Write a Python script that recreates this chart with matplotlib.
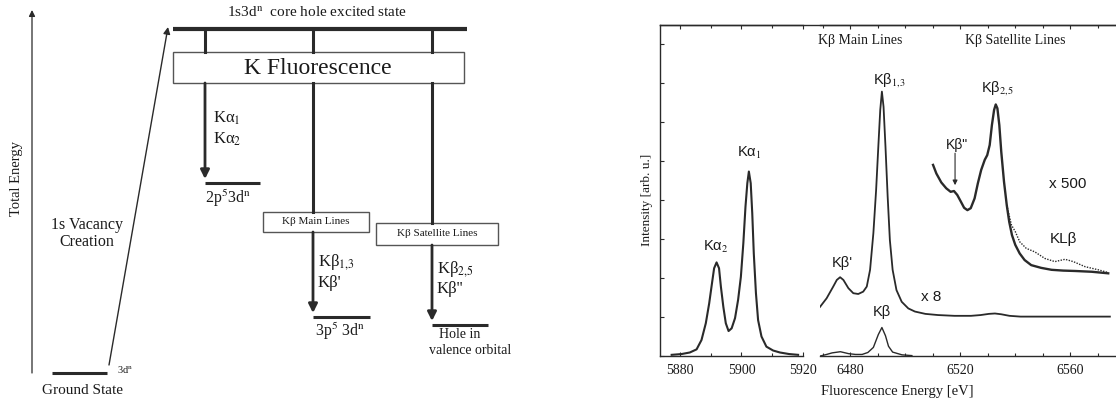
import matplotlib
matplotlib.use('Agg')
import matplotlib.pyplot as plt
from matplotlib.patches import Rectangle
from matplotlib.ticker import MultipleLocator

plt.rcParams['font.family'] = ['Liberation Serif', 'DejaVu Serif']
plt.rcParams['mathtext.fontset'] = 'stix'

# ---------------- spectrum data ----------------
ka_energy = [5877.3, 5880.5, 5883.2, 5885.4, 5887.0, 5888.4, 5889.5, 5890.4, 5891.1, 5891.9,
             5892.7, 5893.3, 5894.1, 5894.9, 5895.8, 5896.8, 5897.9, 5898.9, 5899.8, 5900.6,
             5901.3, 5901.9, 5902.4, 5903.0, 5903.5, 5904.0, 5904.7, 5905.4, 5906.5, 5908.1,
             5910.3, 5912.5, 5915.5, 5918.4]
ka_int = [0.03, 0.05, 0.09, 0.17, 0.41, 0.84, 1.35, 1.86, 2.25, 2.40,
          2.25, 1.78, 1.26, 0.84, 0.64, 0.71, 0.97, 1.44, 2.03, 2.89,
          3.83, 4.43, 4.73, 4.43, 3.66, 2.63, 1.61, 0.92, 0.50, 0.24,
          0.14, 0.09, 0.05, 0.03]

kb_energy = [6469.2, 6471.5, 6473.5, 6476.5, 6479.5, 6482.0, 6484.4, 6486.5, 6488.5, 6490.3,
             6491.6, 6492.9, 6494.0, 6495.5, 6498.9, 6502.5]
kb_int = [0.0, 0.04, 0.08, 0.11, 0.06, 0.04, 0.04, 0.09, 0.22, 0.55,
          0.73, 0.52, 0.25, 0.10, 0.03, 0.01]

kb8_energy = [6469.1, 6471.5, 6473.9, 6475.2, 6476.4, 6477.6, 6479.4, 6481.2, 6483.0, 6484.8,
              6486.1, 6487.3, 6488.5, 6489.5, 6490.3, 6491.0, 6491.6, 6492.2, 6492.9, 6493.7,
              6494.5, 6495.5, 6496.9, 6498.8, 6501.2, 6503.6, 6507.4, 6512.0, 6518.0, 6524.0,
              6527.5, 6530.5, 6532.7, 6535.0, 6538.0, 6542.0, 6574.5]
kb8_int = [1.26, 1.48, 1.78, 1.95, 2.02, 1.95, 1.74, 1.61, 1.59, 1.65,
           1.78, 2.21, 3.15, 4.26, 5.37, 6.31, 6.78, 6.39, 5.37, 4.08,
           2.97, 2.21, 1.69, 1.39, 1.22, 1.14, 1.08, 1.05, 1.03, 1.03,
           1.05, 1.08, 1.09, 1.07, 1.03, 1.01, 1.01]

sat_energy = [6510.2, 6511.4, 6513.2, 6515.0, 6516.6, 6517.8, 6519.0, 6520.3, 6521.5, 6522.7,
              6523.9, 6525.3, 6526.5, 6527.7, 6529.0, 6529.9, 6530.8, 6531.6, 6532.4, 6533.0,
              6533.6, 6534.3, 6535.0, 6536.0, 6537.0, 6537.9, 6538.9, 6540.1, 6541.7, 6543.5,
              6545.9, 6549.5, 6553.3, 6557.5, 6561.8, 6567.9, 6573.9]
sat_int = [4.90, 4.68, 4.45, 4.30, 4.21, 4.23, 4.13, 3.96, 3.80, 3.74,
           3.79, 4.04, 4.43, 4.77, 5.03, 5.15, 5.41, 5.92, 6.31, 6.45,
           6.35, 5.92, 5.24, 4.47, 3.87, 3.44, 3.10, 2.85, 2.63, 2.46,
           2.33, 2.26, 2.21, 2.19, 2.18, 2.16, 2.12]

satdot_energy = [6537.0, 6538.7, 6540.1, 6541.7, 6544.1, 6547.2, 6550.9, 6554.5, 6558.2,
                 6561.2, 6565.5, 6570.3, 6573.9]
satdot_int = [3.87, 3.36, 3.19, 2.93, 2.76, 2.67, 2.50, 2.42, 2.48,
              2.42, 2.29, 2.21, 2.14]

ka_ticks = [5880, 5900, 5920]
kb_ticks = [6480, 6520, 6560]

LC = '#2a2a2a'
TC = '#1a1a1a'
W, H = 1116, 407

fig = plt.figure(figsize=(11.16, 4.07), dpi=100)

# ---------------- energy level diagram ----------------
dg = fig.add_axes([0, 0, 1, 1])
dg.set_xlim(0, W)
dg.set_ylim(H, 0)
dg.axis('off')

def arrow(ax, x0, y0, x1, y1, lw, ms):
    ax.annotate('', xy=(x1, y1), xytext=(x0, y0),
                arrowprops=dict(arrowstyle='-|>', lw=lw, color=LC, mutation_scale=ms,
                                shrinkA=0, shrinkB=0))

# total energy axis
arrow(dg, 32, 373, 32, 10, 0.9, 9)
dg.text(17, 178, 'Total Energy', rotation=90, ha='center', va='center', fontsize=10.5, color=TC)

# levels
levels = [(52, 107, 373), (173, 467, 29), (205, 260, 183), (313, 370, 317), (432, 488, 325)]
for i, (xa, xb, y) in enumerate(levels):
    dg.plot([xa, xb], [y, y], color=LC, lw=3 if i == 1 else 2.2, solid_capstyle='butt')

dg.text(117, 370, '3d$^{\\mathrm{n}}$', fontsize=7.5, ha='left', va='center', color=TC)
dg.text(83, 390, 'Ground State', fontsize=11, ha='center', va='center', color=TC)
dg.text(87, 225, '1s Vacancy', fontsize=11.5, ha='center', va='center', color=TC)
dg.text(87, 242, 'Creation', fontsize=11.5, ha='center', va='center', color=TC)
arrow(dg, 109, 365, 168, 27, 1.0, 10)
dg.text(317, 13, '1s3d$^{\\mathrm{n}}$  core hole excited state', fontsize=11,
        ha='center', va='center', color=TC)

# K fluorescence box
cols = [205, 313, 432]
for x in cols:
    dg.plot([x, x], [29, 52], color=LC, lw=2.2)
dg.add_patch(Rectangle((173, 52), 291, 31, fill=False, ec='#555555', lw=1.0))
dg.text(318, 68, 'K Fluorescence', fontsize=17, ha='center', va='center', color=TC)

# K alpha
arrow(dg, 205, 83, 205, 179, 2.0, 13)
dg.text(213, 118, 'Kα$_1$', fontsize=12, ha='left', va='center', color=TC)
dg.text(213, 139, 'Kα$_2$', fontsize=12, ha='left', va='center', color=TC)
dg.text(228, 198, '2p$^5$3d$^{\\mathrm{n}}$', fontsize=11.5, ha='center', va='center', color=TC)

# K beta main
dg.plot([313, 313], [83, 212], color=LC, lw=2.2)
dg.add_patch(Rectangle((263, 212), 106, 20, fill=False, ec='#555555', lw=1.0))
dg.text(316, 222, 'Kβ Main Lines', fontsize=8, ha='center', va='center', color=TC)
arrow(dg, 313, 232, 313, 313, 2.0, 13)
dg.text(318, 262, 'Kβ$_{1{,}3}$', fontsize=12, ha='left', va='center', color=TC)
dg.text(318, 283, "Kβ'", fontsize=12, ha='left', va='center', color=TC)
dg.text(340, 331, '3p$^5$ 3d$^{\\mathrm{n}}$', fontsize=11.5, ha='center', va='center', color=TC)

# K beta satellite
dg.plot([432, 432], [83, 223], color=LC, lw=2.2)
dg.add_patch(Rectangle((376, 223), 122, 22, fill=False, ec='#555555', lw=1.0))
dg.text(437, 234, 'Kβ Satellite Lines', fontsize=8, ha='center', va='center', color=TC)
arrow(dg, 432, 245, 432, 321, 2.0, 13)
dg.text(437, 269, 'Kβ$_{2{,}5}$', fontsize=12, ha='left', va='center', color=TC)
dg.text(437, 289, "Kβ''", fontsize=12, ha='left', va='center', color=TC)
dg.text(460, 335, 'Hole in', fontsize=10, ha='center', va='center', color=TC)
dg.text(470, 350, 'valence orbital', fontsize=10, ha='center', va='center', color=TC)

# ---------------- spectrum ----------------
left, right, top, bot = 660, 1116, 25, 356
brk1, brk2 = 803, 820
ymax = (bot - top) / 39.0

def fx(px):
    return px / W

def fy(py):
    return 1 - py / H

frame = fig.add_axes([fx(left), fy(bot), fx(right - left), fy(top) - fy(bot)])
frame.set_facecolor('none')
frame.set_xlim(0, 1)
frame.set_ylim(0, ymax)
for s in ['right', 'bottom']:
    frame.spines[s].set_visible(False)
for s in ['top', 'left']:
    frame.spines[s].set_color(LC)
    frame.spines[s].set_linewidth(1.0)
frame.set_xticks([])
frame.yaxis.set_major_locator(MultipleLocator(1))
frame.tick_params(axis='y', direction='in', length=3, width=0.8, labelleft=False, colors=LC)

def data_axes(x0, x1, xlim, ticks):
    a = fig.add_axes([fx(x0), fy(bot), fx(x1 - x0), fy(top) - fy(bot)])
    a.set_facecolor('none')
    a.set_xlim(*xlim)
    a.set_ylim(0, ymax)
    a.spines['left'].set_visible(False)
    a.spines['right'].set_visible(False)
    for s in ['top', 'bottom']:
        a.spines[s].set_color(LC)
        a.spines[s].set_linewidth(1.0)
    a.set_yticks([])
    a.set_xticks(ticks)
    a.xaxis.set_minor_locator(MultipleLocator(10))
    a.tick_params(axis='x', which='both', direction='in', top=True, length=3, width=0.8,
                  labelsize=10, pad=6, colors=LC, labelcolor=TC)
    a.tick_params(axis='x', which='minor', length=2)
    return a

ka_xlim = (5880 - (680 - left) / 3.08, 5920)
kb_xlim = (6480 - (850 - brk2) / 2.75, 6480 + (right - 850) / 2.75)
ax1 = data_axes(left, brk1, ka_xlim, ka_ticks)
ax2 = data_axes(brk2, right, kb_xlim, kb_ticks)

ax1.plot(ka_energy, ka_int, color=LC, lw=1.5, solid_joinstyle='round')
ax2.plot(kb_energy, kb_int, color=LC, lw=1.0, solid_joinstyle='round')
ax2.plot(kb8_energy, kb8_int, color=LC, lw=1.3, solid_joinstyle='round')
ax2.plot(sat_energy, sat_int, color=LC, lw=1.7, solid_joinstyle='round')
ax2.plot(satdot_energy, satdot_int, color=LC, lw=1.0, ls=(0, (1, 1)))

SANS = ['Liberation Sans', 'DejaVu Sans']
ax1.text(5902.4, 5.2, 'Kα$_1$', family=SANS, fontsize=10.5, ha='center', va='center', color=TC)
ax1.text(5891.7, 2.8, 'Kα$_2$', family=SANS, fontsize=10.5, ha='center', va='center', color=TC)
ax2.text(6494.2, 7.08, 'Kβ$_{1{,}3}$', family=SANS, fontsize=10.5, ha='center', va='center', color=TC)
ax2.text(6533.5, 6.87, 'Kβ$_{2{,}5}$', family=SANS, fontsize=10.5, ha='center', va='center', color=TC)
ax2.text(6518.9, 5.4, 'Kβ"', family=SANS, fontsize=10, ha='center', va='center', color=TC)
ax2.annotate('', xy=(6518.2, 4.38), xytext=(6518.2, 5.2),
             arrowprops=dict(arrowstyle='-|>', lw=0.8, color=LC, mutation_scale=7,
                             shrinkA=0, shrinkB=0))
ax2.text(6559.0, 4.41, 'x 500', family=SANS, fontsize=11, ha='center', va='center', color=TC)
ax2.text(6557.5, 3.0, 'KLβ', family=SANS, fontsize=11, ha='center', va='center', color=TC)
ax2.text(6477.1, 2.38, "Kβ'", family=SANS, fontsize=10.5, ha='center', va='center', color=TC)
ax2.text(6509.5, 1.51, 'x 8', family=SANS, fontsize=11, ha='center', va='center', color=TC)
ax2.text(6491.6, 1.13, 'Kβ', family=SANS, fontsize=10.5, ha='center', va='center', color=TC)
ax2.text(6483.6, 8.08, 'Kβ Main Lines', fontsize=10, ha='center', va='center', color=TC)
ax2.text(6540.0, 8.08, 'Kβ Satellite Lines', fontsize=10, ha='center', va='center', color=TC)

fig.text(fx(647), fy(200), 'Intensity [arb. u.]', rotation=90, fontsize=9.5,
         ha='center', va='center', color=TC)
fig.text(fx(897), fy(392), 'Fluorescence Energy [eV]', fontsize=10.5,
         ha='center', va='center', color=TC)

fig.savefig('out.png', dpi=100)
